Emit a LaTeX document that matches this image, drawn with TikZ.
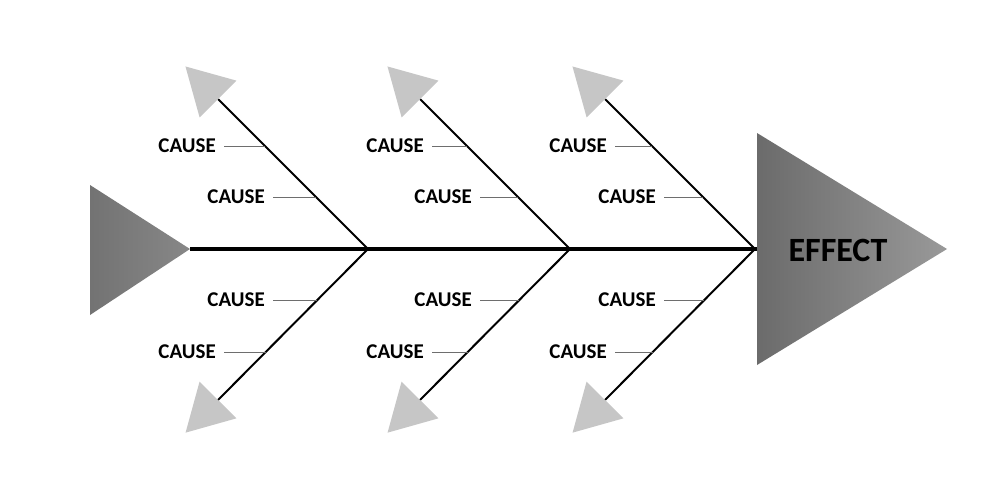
\documentclass[tikz,border=0pt]{standalone}
\usepackage{fontspec}
\setmainfont{Carlito}
\usetikzlibrary{calc}
\definecolor{headgray}{HTML}{C6C6C6}
\definecolor{tickgray}{HTML}{6E6E6E}
\begin{document}
\begin{tikzpicture}[x=1pt,y=-1pt,
  bone/.style={line width=2pt,black},
  spine/.style={line width=4pt,black},
  tickline/.style={line width=0.9pt,tickgray},
  cause/.style={font=\bfseries\fontsize{21}{24}\selectfont,anchor=east,inner sep=0pt},
  head/.style={fill=headgray},
]
\useasboundingbox (0,0) rectangle (1000,485);
\fill[white] (0,0) rectangle (1000,485);

% tail triangle
\shade[left color=black!55, right color=black!47] (90,185) -- (190,249) -- (90,315) -- cycle;
\coordinate (tail) at (190,249);

% effect triangle
\shade[left color=black!58, right color=black!40] (757,133) -- (947,249) -- (757,365) -- cycle;
\coordinate (effedge) at (757,249);
\node[font=\bfseries\fontsize{34}{36}\selectfont,inner sep=0pt] (effect) at (838,250) {EFFECT};

% junctions and bone ends
\foreach \k/\x in {1/368,2/570,3/755} {
  \coordinate (J\k) at (\x,249);
  \coordinate (U\k) at (\x-150,99);
  \coordinate (L\k) at (\x-150,400);
}

% spine
\draw[spine] (tail) -- (J1) -- (J2) -- (J3) -- (effedge);

\foreach \k/\x/\oa/\ob in {1/368/152/103,2/570/146/98,3/755/148/99} {
  % bones
  \draw[bone] (J\k) -- (U\k);
  \draw[bone] (J\k) -- (L\k);
  % heads
  \fill[head] ($(U\k)!-46pt!(J\k)$) -- ($(U\k)!26pt!90:(J\k)$) -- ($(U\k)!26pt!-90:(J\k)$) -- cycle;
  \fill[head] ($(L\k)!-46pt!(J\k)$) -- ($(L\k)!26pt!90:(J\k)$) -- ($(L\k)!26pt!-90:(J\k)$) -- cycle;
  % causes
  \node[cause] (ua\k) at (\x-\oa,146) {CAUSE};
  \coordinate (bua\k) at ($(J\k)!0.687!(U\k)$);
  \draw[tickline] ([xshift=8pt]ua\k.east) -- (ua\k.east -| bua\k);
  \node[cause] (ub\k) at (\x-\ob,197) {CAUSE};
  \coordinate (bub\k) at ($(J\k)!0.347!(U\k)$);
  \draw[tickline] ([xshift=8pt]ub\k.east) -- (ub\k.east -| bub\k);
  \node[cause] (la\k) at (\x-\ob,300) {CAUSE};
  \coordinate (bla\k) at ($(J\k)!0.338!(L\k)$);
  \draw[tickline] ([xshift=8pt]la\k.east) -- (la\k.east -| bla\k);
  \node[cause] (lb\k) at (\x-\oa,352) {CAUSE};
  \coordinate (blb\k) at ($(J\k)!0.682!(L\k)$);
  \draw[tickline] ([xshift=8pt]lb\k.east) -- (lb\k.east -| blb\k);
}
\end{tikzpicture}
\end{document}
